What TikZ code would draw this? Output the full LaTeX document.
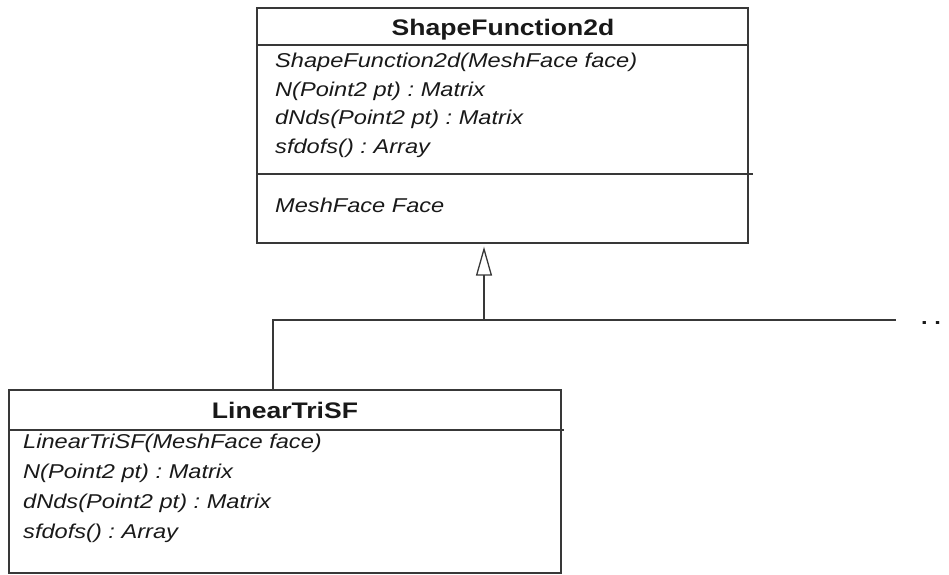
\documentclass[tikz,border=0pt]{standalone}
\usepackage{fontspec}
\newfontfamily\umlfont[FakeStretch=1.18]{Liberation Sans}
\usetikzlibrary{arrows.meta}
\definecolor{linegray}{rgb}{0.22,0.22,0.22}
\definecolor{textgray}{rgb}{0.1,0.1,0.1}
\frenchspacing

\begin{document}
\begin{tikzpicture}[line cap=rect,line join=miter,x=1pt,y=-1pt,
  classbox/.style={draw=linegray,line width=1.3pt,inner sep=0pt,rectangle},
  classname/.style={font=\umlfont\bfseries\fontsize{22.5}{26}\selectfont,text=textgray,inner sep=0pt},
  member/.style={font=\umlfont\itshape\fontsize{20}{24}\selectfont,text=textgray,anchor=west,inner sep=0pt},
  rule/.style={draw=linegray,line width=1.3pt},
  inherit/.style={draw=linegray,line width=1.3pt}]
\useasboundingbox (0,0) rectangle (949,574);
		% base class
		\node[classbox,minimum width=491pt,minimum height=235pt] (sf) at (502.5,125.5) {};
		\node[classname] (sfname) at (503,30) {ShapeFunction2d};
			\draw[rule] (257,45)-- (748,45);
		\node[member] (sfm1) at (275,62) {ShapeFunction2d(MeshFace face)};
		\node[member] (sfm2) at (275,91) {N(Point2 pt) : Matrix};
		\node[member] (sfm3) at (275,119) {dNds(Point2 pt) : Matrix};
		\node[member] (sfm4) at (275,148) {sfdofs() : Array};
			\draw[rule] (257,174)-- (752,174);
		\node[member] (sfa1) at (275,205) {MeshFace Face};
		% derived class
		\node[classbox,minimum width=552pt,minimum height=183pt] (ltsf) at (285,481.5) {};
		\node[classname] (ltsfname) at (285,410) {LinearTriSF};
			\draw[rule] (9,430)-- (563,430);
		\node[member] (ltsfm1) at (23,443) {LinearTriSF(MeshFace face)};
		\node[member] (ltsfm2) at (23,473) {N(Point2 pt) : Matrix};
		\node[member] (ltsfm3) at (23,503) {dNds(Point2 pt) : Matrix};
		\node[member] (ltsfm4) at (23,533) {sfdofs() : Array};
		% generalisation
		\coordinate (hub) at (484,320);
		\coordinate (busl) at (273,320);
		\coordinate (busr) at (895,320);
		\node[font=\umlfont\bfseries\fontsize{20}{24}\selectfont,text=textgray,anchor=base,inner sep=0pt] (more) at (931,324) {.\ .};
		\draw[inherit,-{Triangle[open,length=29pt,width=16pt,line width=1.3pt]},shorten >=3pt] (hub)-- (sf.south -| hub);
		\draw[inherit] (busl)-- (busr);
		\draw[inherit] (busl)-- (ltsf.north -| busl);
\end{tikzpicture}
\end{document}
